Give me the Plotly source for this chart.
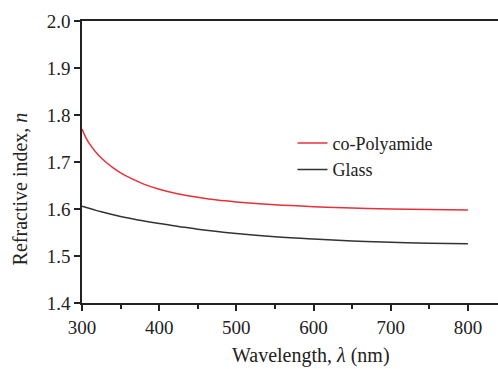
import plotly.graph_objects as go

wl_poly = [300, 305, 310, 320, 330, 340, 350, 365, 380, 400, 425, 450, 475, 500, 550, 600, 650, 700, 750, 800]
n_poly = [1.770, 1.752, 1.738, 1.717, 1.701, 1.688, 1.677, 1.664, 1.653, 1.642, 1.632, 1.625, 1.619, 1.615,
          1.609, 1.605, 1.602, 1.600, 1.599, 1.598]

wl_glass = [300, 325, 350, 375, 400, 425, 450, 500, 550, 600, 650, 700, 750, 800]
n_glass = [1.606, 1.594, 1.584, 1.576, 1.569, 1.563, 1.557, 1.548, 1.541, 1.536, 1.532, 1.529, 1.527, 1.526]

x_ticks = [300, 400, 500, 600, 700, 800]
y_ticks = [1.4, 1.5, 1.6, 1.7, 1.8, 1.9, 2.0]

FONT = "'Liberation Serif', 'DejaVu Serif', 'Times New Roman', serif"

fig = go.Figure()
fig.add_trace(go.Scatter(x=wl_poly, y=n_poly, mode="lines", name="co-Polyamide",
                         line=dict(color="#e8303a", width=1.5, shape="spline", smoothing=1)))
fig.add_trace(go.Scatter(x=wl_glass, y=n_glass, mode="lines", name="Glass",
                         line=dict(color="#333333", width=1.5, shape="spline", smoothing=1)))

fig.update_layout(
    width=498, height=369,
    margin=dict(l=82, r=0, t=21, b=66),
    paper_bgcolor="white", plot_bgcolor="white",
    font=dict(family=FONT, size=19, color="#222"),
    showlegend=True,
    legend=dict(x=0.506, y=0.632, xanchor="left", yanchor="top",
                bgcolor="rgba(0,0,0,0)", itemwidth=30, tracegroupgap=0,
                font=dict(family=FONT, size=18, color="#222")),
    xaxis=dict(range=[300, 839], tickvals=x_ticks, ticks="outside", ticklen=6,
               tickwidth=1.5, tickcolor="#222", showline=True, linecolor="#222",
               linewidth=1.5, mirror=True, showgrid=False, zeroline=False,
               minor=dict(dtick=50, tick0=300, ticks="outside", ticklen=4,
                          tickwidth=1.5, tickcolor="#222", showgrid=False)),
    yaxis=dict(range=[1.4, 2.0], tickvals=y_ticks, tickformat=".1f", ticks="outside",
               ticklen=6, tickwidth=1.5, tickcolor="#222", showline=True,
               linecolor="#222", linewidth=1.5, mirror=False, showgrid=False,
               zeroline=False),
    annotations=[
        dict(text="Wavelength, <i>λ</i> (nm)", xref="paper", yref="paper",
             x=0.55, y=-0.185, xanchor="center", yanchor="middle", showarrow=False,
             font=dict(family=FONT, size=20, color="#222")),
        dict(text="Refractive index, <i>n</i>", xref="paper", yref="paper",
             x=-0.15, y=0.405, xanchor="center", yanchor="middle", showarrow=False,
             textangle=-90, font=dict(family=FONT, size=20, color="#222")),
    ],
)

fig.write_html("out.html", config={"displayModeBar": False},
               post_script="document.body.style.margin='0';")
